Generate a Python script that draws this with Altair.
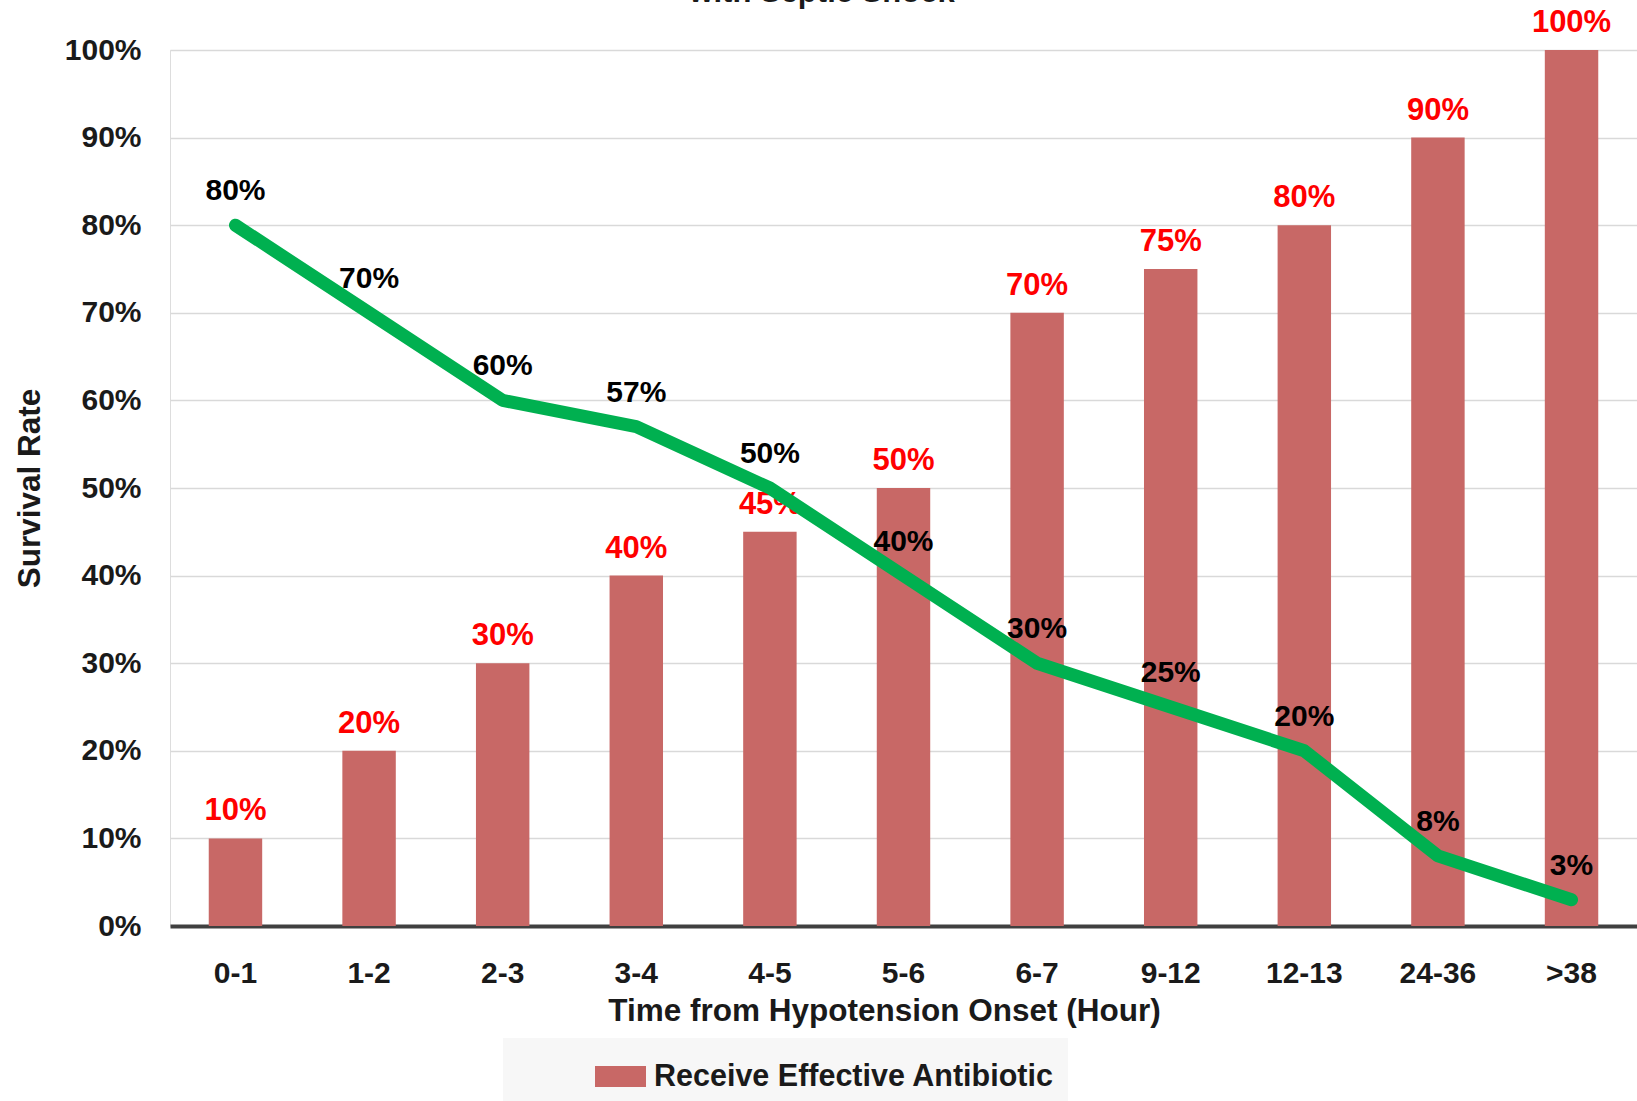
import altair as alt
import pandas as pd

categories = ["0-1", "1-2", "2-3", "3-4", "4-5", "5-6", "6-7", "9-12", "12-13", "24-36", ">38"]
antibiotic = [0.10, 0.20, 0.30, 0.40, 0.45, 0.50, 0.70, 0.75, 0.80, 0.90, 1.00]
survival = [0.80, 0.70, 0.60, 0.57, 0.50, 0.40, 0.30, 0.25, 0.20, 0.08, 0.03]
series_name = "Receive Effective Antibiotic"
title_text = ["with Septic Shock"]

df = pd.DataFrame({
    "cat": categories,
    "antibiotic": antibiotic,
    "survival": survival,
    "series": [series_name] * len(categories),
})
title_df = pd.DataFrame({"t": title_text})

FONT = "'Liberation Sans', Arial, sans-serif"
DARK = "#1a1a1a"
BAR = "#C86866"
GREEN = "#00B050"

x_enc = alt.X(
    "cat:N",
    sort=categories,
    scale=alt.Scale(paddingInner=0.6, paddingOuter=0.29),
    axis=alt.Axis(
        title="Time from Hypotension Onset (Hour)",
        labelAngle=0,
        labelFont=FONT, labelFontSize=30, labelFontWeight="bold", labelColor=DARK,
        labelPadding=32, ticks=False, tickSize=0,
        domain=True, domainColor="#404040", domainWidth=4,
        grid=False,
        titleFont=FONT, titleFontSize=31.5, titleFontWeight="bold", titleColor=DARK,
        titlePadding=7, titleX=714,
    ),
)

y_axis = alt.Axis(
    title="Survival Rate",
    format=".0%",
    values=[i / 10 for i in range(11)],
    labelFont=FONT, labelFontSize=30, labelFontWeight="bold", labelColor=DARK,
    labelPadding=29, ticks=False, tickSize=0, domain=False,
    grid=True, gridColor="#D9D9D9", gridWidth=1.5,
    titleFont=FONT, titleFontSize=31.5, titleFontWeight="bold", titleColor=DARK,
    titlePadding=18,
)
y_scale = alt.Scale(domain=[0, 1], nice=False)

base = alt.Chart(df)

bars = base.mark_bar(opacity=1).encode(
    x=x_enc,
    y=alt.Y("antibiotic:Q", scale=y_scale, axis=y_axis),
    color=alt.Color(
        "series:N",
        scale=alt.Scale(range=[BAR]),
        legend=alt.Legend(
            title=None, orient="none", legendX=333, legendY=988,
            fillColor="#F7F7F7", padding=13,
            symbolType="M-1,-0.41H1V0.41H-1Z", symbolSize=2601,
            symbolOffset=79, symbolStrokeWidth=0, symbolOpacity=1,
            labelFont=FONT, labelFontSize=30.5, labelFontWeight="bold",
            labelColor=DARK, labelOffset=8, labelLimit=0,
        ),
    ),
)

bar_labels = base.mark_text(
    font=FONT, fontSize=31, fontWeight="bold", color="#FF0000",
    baseline="alphabetic", dy=-18,
).encode(
    x=alt.X("cat:N", sort=categories),
    y=alt.Y("antibiotic:Q", scale=y_scale, axis=y_axis),
    text=alt.Text("antibiotic:Q", format=".0%"),
)

line = base.mark_line(
    color=GREEN, strokeWidth=13, strokeJoin="round", strokeCap="round",
).encode(
    x=alt.X("cat:N", sort=categories),
    y=alt.Y("survival:Q", scale=y_scale, axis=y_axis),
)

line_labels = base.mark_text(
    font=FONT, fontSize=30, fontWeight="bold", color="#000000",
    baseline="alphabetic", dy=-25,
).encode(
    x=alt.X("cat:N", sort=categories),
    y=alt.Y("survival:Q", scale=y_scale, axis=y_axis),
    text=alt.Text("survival:Q", format=".0%"),
)

# chart title (mostly above the visible page, as in the reference)
title_mark = alt.Chart(title_df).mark_text(
    font=FONT, fontSize=31, fontWeight="bold", color=DARK,
    baseline="alphabetic", align="center",
).encode(
    x=alt.value(652), y=alt.value(-48), text="t:N",
)

chart = alt.layer(bars, bar_labels, line, line_labels, title_mark).properties(
    width=1467,
    height=876,
    autosize=alt.AutoSizeParams(type="none"),
    padding={"left": 170, "top": 50, "right": 0, "bottom": 175},
).configure_view(stroke=None).configure(background="white")

chart.save("out.html", embed_options={"renderer": "svg", "actions": False})
